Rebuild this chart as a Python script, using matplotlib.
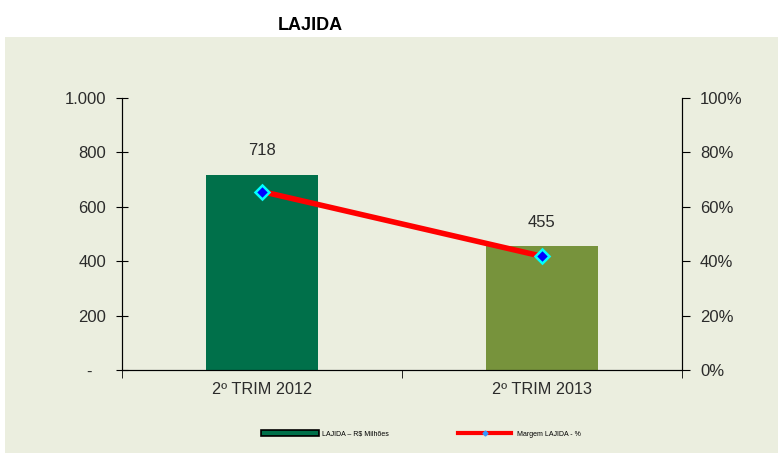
import matplotlib
matplotlib.use("Agg")
import matplotlib.pyplot as plt
from matplotlib.patches import Rectangle
from matplotlib.lines import Line2D
import matplotlib.patheffects as pe

categories = ["2º TRIM 2012", "2º TRIM 2013"]
lajida = [718, 455]
margem = [65.6, 41.8]
bar_colors = ["#00704A", "#77933C"]
left_ticks = [0, 200, 400, 600, 800, 1000]
left_labels = ["-   ", "200", "400", "600", "800", "1.000"]
right_ticks = [0, 20, 40, 60, 80, 100]
right_labels = ["0%", "20%", "40%", "60%", "80%", "100%"]

plt.rcParams['font.family'] = ['Liberation Sans', 'DejaVu Sans']
txt = "#2b2b2b"

W, H = 778, 453
fig = plt.figure(figsize=(W/100, H/100), dpi=100, facecolor="white")
bg = "#EBEEDF"
fig.patches.append(Rectangle((5/W, 0), 1 - 5/W, (H-37)/H, transform=fig.transFigure,
                             facecolor=bg, edgecolor="none", zorder=-10))
fig.text(310/W, 1 - 25/H, "LAJIDA", ha="center", va="center", fontsize=13, fontweight="bold")

ax = fig.add_axes([122/W, 1 - 370/H, 560/W, 272/H])
ax.set_facecolor("none")
x = list(range(len(categories)))
ax.bar(x, lajida, width=0.4, color=bar_colors, zorder=2)
for xi, v in zip(x, lajida):
    ax.text(xi, v + 60, f"{v}", ha="center", va="bottom", fontsize=12, color=txt)
ax.set_xlim(-0.5, 1.5)
ax.set_ylim(0, 1000)
ax.set_yticks(left_ticks)
ax.set_yticklabels(left_labels)
ax.set_xticks(x)
ax.set_xticklabels(categories)
ax.tick_params(axis="x", length=0, labelsize=11.7, pad=9, labelcolor=txt)
ax.set_xticks([-0.5, 0.5, 1.5], minor=True)
ax.tick_params(axis="x", which="minor", length=6, direction="out")
ax.tick_params(axis="y", direction="inout", length=8, labelsize=12, pad=7.5, labelcolor=txt)
ax.spines["top"].set_visible(False)
for s in ["left", "right", "bottom"]:
    ax.spines[s].set_color("#222222")

ax2 = ax.twinx()
ax2.set_ylim(0, 100)
ax2.set_yticks(right_ticks)
ax2.set_yticklabels(right_labels)
ax2.tick_params(axis="y", direction="out", length=6, labelsize=12, pad=7, labelcolor=txt)
ax2.spines["top"].set_visible(False)
ax2.plot(x, margem, color="#FF0000", lw=4, marker="D", markersize=7,
         markerfacecolor="#0000FF", markeredgecolor="#00FFFF", markeredgewidth=1.8, zorder=3)

h1 = Line2D([], [], color="#00704A", lw=3,
            path_effects=[pe.Stroke(linewidth=5.5, foreground="black"), pe.Normal()])
h2 = Line2D([], [], color="#FF0000", lw=3, marker="D", markersize=2.5,
            markerfacecolor="#3399FF", markeredgecolor="#3399FF")
fig.legend([h1, h2], ["LAJIDA – R$ Milhões", "Margem LAJIDA - %"],
           loc="center", bbox_to_anchor=(422/W, 1 - 434/H), ncol=2, frameon=False,
           fontsize=5, handlelength=7.6, columnspacing=10, handletextpad=0.8)

fig.savefig("out.png", dpi=100, facecolor="white")
